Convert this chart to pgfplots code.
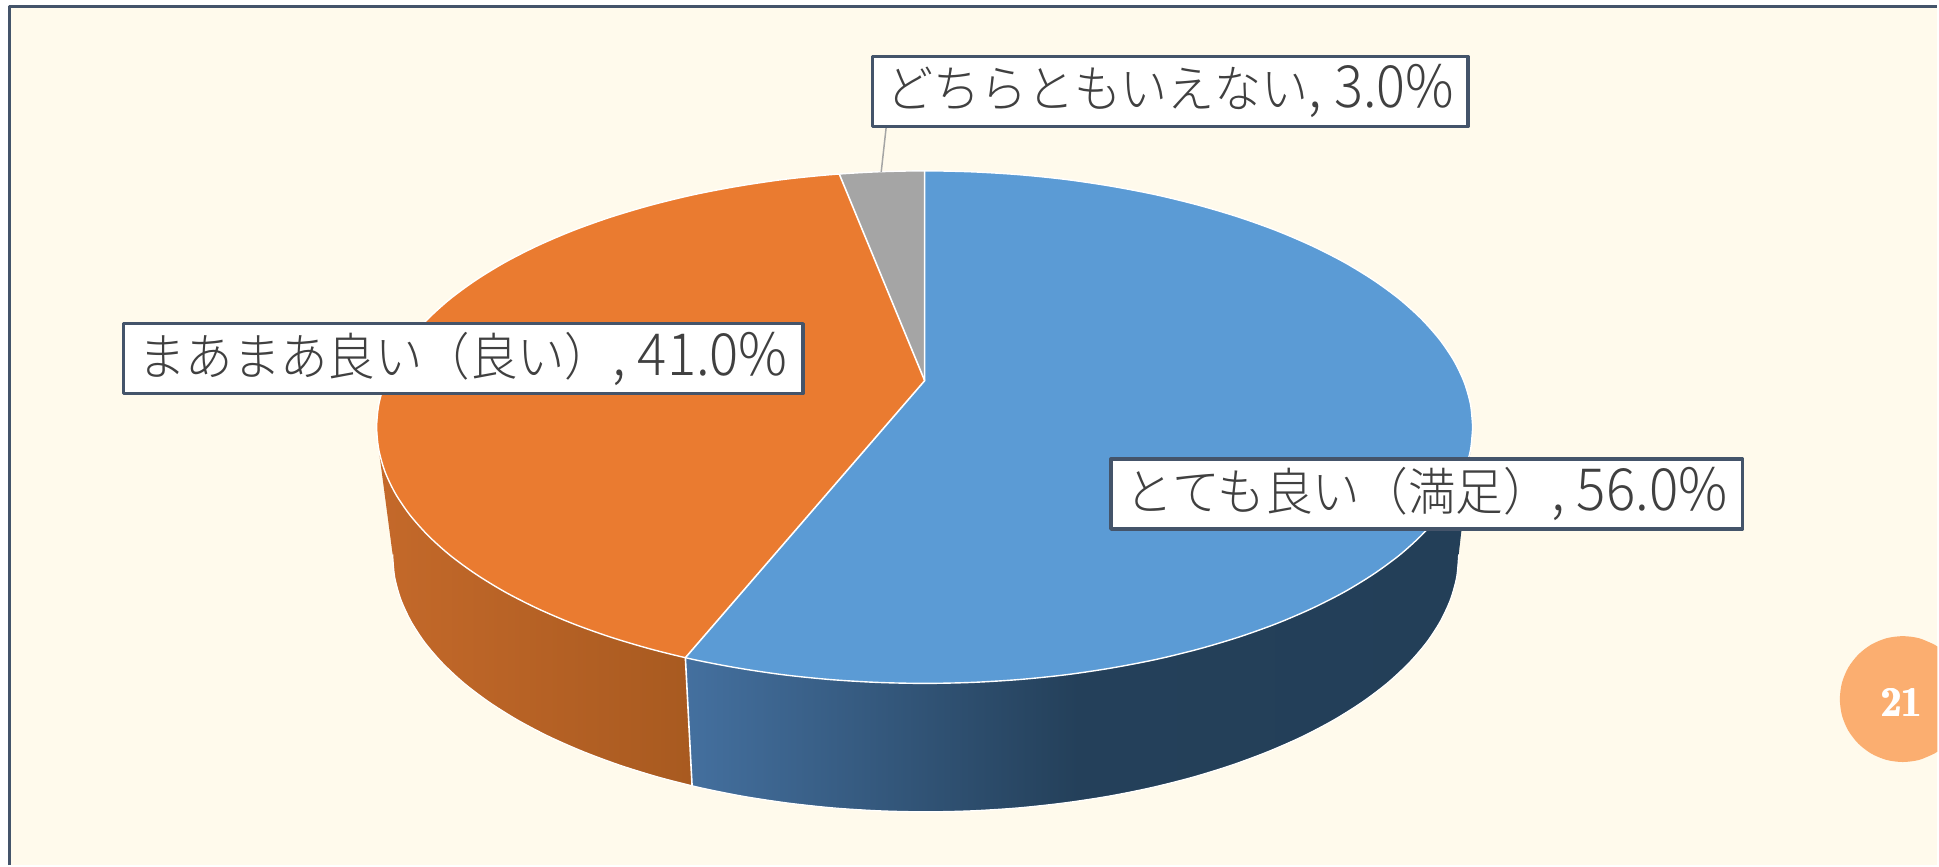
\documentclass[border=0pt]{standalone}
\usepackage{graphicx}
\usepackage{fontspec}
\usepackage{pgfplots}
\pgfplotsset{compat=1.18}
\newfontfamily\cjk{Noto Sans CJK JP Light}
\newcommand{\lab}[2]{{\fontsize{47}{56}\cjk #1}{\fontsize{54}{56}\cjk #2}}
\definecolor{bg}{HTML}{FFFAEC}
\definecolor{frame}{HTML}{44546A}
\definecolor{txt}{HTML}{404040}
\definecolor{piblue}{HTML}{5B9BD5}
\definecolor{piorange}{HTML}{EA7B30}
\definecolor{pigray}{HTML}{A5A5A5}
\definecolor{peach}{HTML}{FBAE70}
\definecolor{orL}{HTML}{C4692A}
\definecolor{orR}{HTML}{A85A20}
\definecolor{blL}{HTML}{44709F}
\definecolor{blM}{HTML}{24405A}
\definecolor{blR}{HTML}{233F58}
\begin{document}
\begin{tikzpicture}
\begin{axis}[
  scale only axis, width=1939pt, height=866pt,
  xmin=0, xmax=1939, ymin=0, ymax=866, y dir=reverse,
  axis lines=none, clip=false, no markers,
  tick style={draw=none}, xtick=\empty, ytick=\empty,
  line join=round,
]
% page, background and frame
\addplot[draw=none, fill=white] coordinates {(0,0) (1939,0) (1939,866) (0,866)} -- cycle;
\addplot[draw=none, fill=bg] coordinates {(9.5,6.5) (1939,6.5) (1939,866) (9.5,866)} -- cycle;
\addplot[draw=frame, line width=3.5pt] coordinates {(9.5,866) (9.5,6.5) (1939,6.5)};
% page number disc
\addplot[draw=none, fill=peach, smooth] coordinates {
(1936.0,645.1) (1920.8,638.8) (1904.5,636.7) (1888.2,638.8) (1873.0,645.1)
(1860.0,655.1) (1849.9,668.2) (1843.6,683.4) (1841.5,699.7) (1843.6,716.0) (1849.9,731.2)
(1860.0,744.3) (1873.0,754.3) (1888.2,760.6) (1904.5,762.7) (1920.8,760.6) (1936.0,754.3)
} -- (axis cs:1939,752.4) -- (axis cs:1939,647) -- cycle;
% side: orange
\addplot[draw=none, left color=orL, right color=orR] coordinates {
(379.1,449.9) (385.3,472.0) (395.7,493.9) (410.1,515.2) (428.4,535.9) (450.5,555.8) (476.2,574.6)
(505.3,592.4) (537.7,608.9) (572.9,624.0) (610.9,637.6) (651.2,649.6) (686.0,658.3)
(692.7,786.5) (659.7,778.0) (620.5,765.9) (583.6,752.2) (549.3,737.1) (517.8,720.5) (489.5,702.7)
(464.5,683.8) (443.0,663.8) (425.2,643.1) (411.2,621.6) (401.1,599.7) (395.0,577.4) (393.0,555.0)
} -- cycle;
% side: blue
\addplot[draw=none, left color=blL, right color=blR, middle color=blM] coordinates {
(1471.9,449.9) (1465.7,472.0) (1455.3,493.9) (1440.9,515.2) (1422.6,535.9) (1400.5,555.8) (1374.8,574.6)
(1345.7,592.4) (1313.3,608.9) (1278.1,624.0) (1240.1,637.6) (1199.8,649.6) (1157.3,660.0) (1113.1,668.5)
(1067.5,675.3) (1020.7,680.1) (973.3,683.0) (925.5,684.0) (877.7,683.0) (830.3,680.1) (783.5,675.3)
(737.9,668.5) (693.7,660.0) (686.0,658.3)
(692.7,786.5) (701.0,788.4) (744.0,797.0) (788.4,803.7) (833.9,808.6) (880.0,811.5) (926.5,812.5)
(973.0,811.5) (1019.1,808.6) (1064.6,803.7) (1109.0,797.0) (1152.0,788.4) (1193.3,778.0) (1232.5,765.9)
(1269.4,752.2) (1303.7,737.1) (1335.2,720.5) (1363.5,702.7) (1388.5,683.8) (1410.0,663.8) (1427.8,643.1)
(1441.8,621.6) (1451.9,599.7) (1458.0,577.4) (1460.0,555.0)
} -- cycle;
% side outlines
\addplot[draw=white, line width=1.2pt, smooth] coordinates {
(1460.0,555.0) (1458.0,577.4) (1451.9,599.7) (1441.8,621.6) (1427.8,643.1) (1410.0,663.8) (1388.5,683.8) (1363.5,702.7)
(1335.2,720.5) (1303.7,737.1) (1269.4,752.2) (1232.5,765.9) (1193.3,778.0) (1152.0,788.4) (1109.0,797.0) (1064.6,803.7)
(1019.1,808.6) (973.0,811.5) (926.5,812.5) (880.0,811.5) (833.9,808.6) (788.4,803.7) (744.0,797.0) (701.0,788.4) (659.7,778.0)
(620.5,765.9) (583.6,752.2) (549.3,737.1) (517.8,720.5) (489.5,702.7) (464.5,683.8) (443.0,663.8) (425.2,643.1) (411.2,621.6)
(401.1,599.7) (395.0,577.4) (393.0,555.0)};
\addplot[draw=white, line width=1.6pt] coordinates {(686.0,658.3) (692.7,786.5)};
% top: とても良い 56.0
\addplot[draw=none, fill=piblue] coordinates {
(925.5,381.0) (925.5,171.0) (973.3,172.0) (1020.7,174.9) (1067.5,179.7) (1113.1,186.5) (1157.3,195.0) (1199.8,205.4)
(1240.1,217.4) (1278.1,231.0) (1313.3,246.1) (1345.7,262.6) (1374.8,280.4) (1400.5,299.2) (1422.6,319.1)
(1440.9,339.8) (1455.3,361.1) (1465.7,383.0) (1471.9,405.1) (1474.0,427.5) (1471.9,449.9) (1465.7,472.0)
(1455.3,493.9) (1440.9,515.2) (1422.6,535.9) (1400.5,555.8) (1374.8,574.6) (1345.7,592.4) (1313.3,608.9)
(1278.1,624.0) (1240.1,637.6) (1199.8,649.6) (1157.3,660.0) (1113.1,668.5) (1067.5,675.3) (1020.7,680.1)
(973.3,683.0) (925.5,684.0) (877.7,683.0) (830.3,680.1) (783.5,675.3) (737.9,668.5) (693.7,660.0) (686.0,658.3)
} -- cycle;
% top: まあまあ良い 41.0
\addplot[draw=none, fill=piorange] coordinates {
(925.5,381.0) (686.0,658.3) (651.2,649.6) (610.9,637.6) (572.9,624.0) (537.7,608.9) (505.3,592.4) (476.2,574.6)
(450.5,555.8) (428.4,535.9) (410.1,515.2) (395.7,493.9) (385.3,472.0) (379.1,449.9) (377.0,427.5) (379.1,405.1)
(385.3,383.0) (395.7,361.1) (410.1,339.8) (428.4,319.1) (450.5,299.2) (476.2,280.4) (505.3,262.6) (537.7,246.1)
(572.9,231.0) (610.9,217.4) (651.2,205.4) (693.7,195.0) (737.9,186.5) (783.5,179.7) (830.3,174.9) (840.0,174.1)
} -- cycle;
% top: どちらともいえない 3.0
\addplot[draw=none, fill=pigray] coordinates {
(925.5,381.0) (840.0,174.1) (877.7,172.0) (925.5,171.0)
} -- cycle;
% top outlines: rim and spokes
\addplot[draw=white, line width=1.4pt, smooth] coordinates {
(1474.0,427.5) (1471.9,449.9) (1465.7,472.0) (1455.3,493.9) (1440.9,515.2) (1422.6,535.9) (1400.5,555.8) (1374.8,574.6)
(1345.7,592.4) (1313.3,608.9) (1278.1,624.0) (1240.1,637.6) (1199.8,649.6) (1157.3,660.0) (1113.1,668.5) (1067.5,675.3)
(1020.7,680.1) (973.3,683.0) (925.5,684.0) (877.7,683.0) (830.3,680.1) (783.5,675.3) (737.9,668.5) (693.7,660.0)
(651.2,649.6) (610.9,637.6) (572.9,624.0) (537.7,608.9) (505.3,592.4) (476.2,574.6) (450.5,555.8) (428.4,535.9)
(410.1,515.2) (395.7,493.9) (385.3,472.0) (379.1,449.9) (377.0,427.5) (379.1,405.1) (385.3,383.0) (395.7,361.1)
(410.1,339.8) (428.4,319.1) (450.5,299.2) (476.2,280.4) (505.3,262.6) (537.7,246.1) (572.9,231.0) (610.9,217.4)
(651.2,205.4) (693.7,195.0) (737.9,186.5) (783.5,179.7) (830.3,174.9) (877.7,172.0) (925.5,171.0) (973.3,172.0)
(1020.7,174.9) (1067.5,179.7) (1113.1,186.5) (1157.3,195.0) (1199.8,205.4) (1240.1,217.4) (1278.1,231.0) (1313.3,246.1)
(1345.7,262.6) (1374.8,280.4) (1400.5,299.2) (1422.6,319.1) (1440.9,339.8) (1455.3,361.1) (1465.7,383.0) (1471.9,405.1) (1474.0,427.5)};
\addplot[draw=white, line width=1.6pt] coordinates {(925.5,171.0) (925.5,381.0) (686.0,658.3)};
\addplot[draw=white, line width=1.6pt] coordinates {(840.0,174.1) (925.5,381.0)};
% leader line
\addplot[draw=pigray, line width=1.5pt] coordinates {(887,127) (882,172)};
% labels
\node[draw=frame, fill=white, line width=3.5pt, inner sep=0pt, minimum width=596pt, minimum height=70pt, text=txt]
  at (axis cs:1171.5,91.5) {\raisebox{-3pt}{\resizebox{568pt}{1.08\height}{\lab{どちらともいえない}{, 3.0\%}}}};
\node[draw=frame, fill=white, line width=3.5pt, inner sep=0pt, minimum width=680pt, minimum height=70pt, text=txt]
  at (axis cs:463.5,359) {\raisebox{-3pt}{\resizebox{650pt}{1.08\height}{\lab{まあまあ良い（良い）}{, 41.0\%}}}};
\node[draw=frame, fill=white, line width=3.5pt, inner sep=0pt, minimum width=632pt, minimum height=70pt, text=txt]
  at (axis cs:1428,494.5) {\raisebox{-3pt}{\resizebox{602pt}{1.08\height}{\lab{とても良い（満足）}{, 56.0\%}}}};
\node[text=white, inner sep=0pt] at (axis cs:1903,703) {\resizebox{40pt}{28pt}{\bfseries 21}};
\node[text=white, inner sep=0pt] at (axis cs:1903.8,703) {\resizebox{40pt}{28pt}{\bfseries 21}};
\node[text=white, inner sep=0pt] at (axis cs:1902.2,703) {\resizebox{40pt}{28pt}{\bfseries 21}};
\end{axis}
\end{tikzpicture}
\end{document}
